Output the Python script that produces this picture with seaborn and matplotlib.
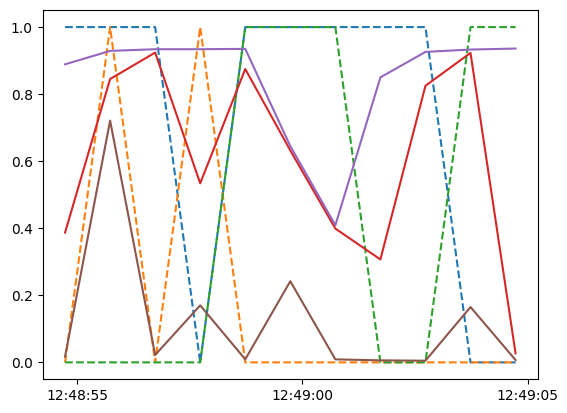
import numpy as np
import pandas as pd
import seaborn as sns
import matplotlib.pyplot as plt
import matplotlib.dates as mdates

# timestamps (about one reading per second)
times = pd.to_datetime([
    "2024-01-01 12:48:54.730", "2024-01-01 12:48:55.730", "2024-01-01 12:48:56.730",
    "2024-01-01 12:48:57.730", "2024-01-01 12:48:58.730", "2024-01-01 12:48:59.730",
    "2024-01-01 12:49:00.730", "2024-01-01 12:49:01.730", "2024-01-01 12:49:02.730",
    "2024-01-01 12:49:03.730", "2024-01-01 12:49:04.730",
])

# binary signals (dashed)
sig_a = [1, 1, 1, 0, 1, 1, 1, 1, 1, 0, 0]
sig_b = [0, 1, 0, 1, 0, 0, 0, 0, 0, 0, 0]
sig_c = [0, 0, 0, 0, 1, 1, 1, 0, 0, 1, 1]

# continuous scores (solid)
score_d = [0.387, 0.845, 0.924, 0.534, 0.875, 0.632, 0.399, 0.307, 0.825, 0.923, 0.027]
score_e = [0.889, 0.929, 0.934, 0.934, 0.935, 0.645, 0.409, 0.850, 0.926, 0.933, 0.936]
score_f = [0.017, 0.721, 0.022, 0.170, 0.009, 0.242, 0.009, 0.006, 0.005, 0.165, 0.007]

series = [
    (sig_a, "--"), (sig_b, "--"), (sig_c, "--"),
    (score_d, "-"), (score_e, "-"), (score_f, "-"),
]
colors = sns.color_palette("tab10", 6)

fig, ax = plt.subplots(figsize=(5.67, 4.13), dpi=100)
fig.subplots_adjust(left=0.075, right=0.949, bottom=0.082, top=0.975)

for (vals, ls), col in zip(series, colors):
    sns.lineplot(x=times, y=vals, ax=ax, color=col, linestyle=ls, linewidth=1.5)

ax.xaxis.set_major_locator(mdates.SecondLocator(bysecond=range(0, 60, 5)))
ax.xaxis.set_major_formatter(mdates.DateFormatter("%H:%M:%S"))
ax.set_xlabel("")
ax.set_ylabel("")

fig.savefig("out.png", dpi=100)
